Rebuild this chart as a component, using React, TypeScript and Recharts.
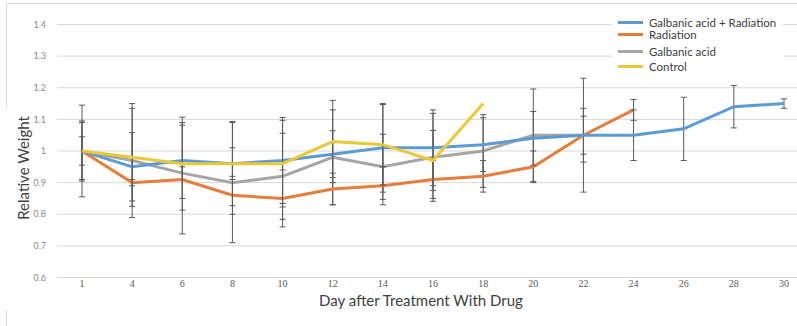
import React from 'react'
import { LineChart, Line, XAxis, YAxis, CartesianGrid, ErrorBar, Legend } from 'recharts'

const days = ['1', '4', '6', '8', '10', '12', '14', '16', '18', '20', '22', '24', '26', '28', '30']
const yTicks = [0.6, 0.7, 0.8, 0.9, 1.0, 1.1, 1.2, 1.3, 1.4]

// Galbanic acid + Radiation
const comboValues = [1, 0.95, 0.97, 0.96, 0.97, 0.99, 1.01, 1.01, 1.02, 1.04, 1.05, 1.05, 1.07, 1.14, 1.15]
const comboErrors = [0.045, 0.108, 0.12, 0.05, 0.136, 0.074, 0.14, 0.12, 0.085, 0.085, 0.085, 0.08, 0.1, 0.067, 0.015]

// Radiation
const radiationValues = [1, 0.9, 0.91, 0.86, 0.85, 0.88, 0.89, 0.91, 0.92, 0.95, 1.05, 1.13, null, null, null]
const radiationErrors = [0.145, 0.01, 0.172, 0.06, 0.09, 0.05, 0.06, 0.06, 0.05, 0.05, 0.18, 0.033, null, null, null]

// Galbanic acid
const galbanicValues = [1, 0.97, 0.93, 0.9, 0.92, 0.98, 0.95, 0.98, 1.0, 1.05, 1.05, null, null, null, null]
const galbanicErrors = [0.09, 0.18, 0.02, 0.19, 0.136, 0.15, 0.103, 0.139, 0.115, 0.146, 0.06, null, null, null, null]

// Control
const controlValues = [1, 0.98, 0.96, 0.96, 0.96, 1.03, 1.02, 0.97, 1.15, null, null, null, null, null, null]
const controlErrors = [0.095, 0.155, 0.147, 0.133, 0.137, 0.13, 0.127, 0.095, null, null, null, null, null, null, null]

const series = [
  { key: 'combo', name: 'Galbanic acid + Radiation', color: '#5B9BD5' },
  { key: 'radiation', name: 'Radiation', color: '#E67E3A' },
  { key: 'galbanic', name: 'Galbanic acid', color: '#A5A5A5' },
  { key: 'control', name: 'Control', color: '#EBC934' },
]

const data = days.map((day, i) => ({
  day,
  combo: comboValues[i],
  comboErr: comboErrors[i],
  radiation: radiationValues[i],
  radiationErr: radiationErrors[i],
  galbanic: galbanicValues[i],
  galbanicErr: galbanicErrors[i],
  control: controlValues[i],
  controlErr: controlErrors[i],
}))

const rowTops = [4, 16, 33, 48]

function LegendBox() {
  return (
    <div style={{ position: 'relative', width: 171, height: 64, background: '#fff' }}>
      {series.map((s, i) => (
        <div
          key={s.key}
          style={{ position: 'absolute', top: rowTops[i], left: 6, display: 'flex', alignItems: 'center', height: 13 }}
        >
          <span style={{ display: 'inline-block', width: 25, height: 3, background: s.color, marginRight: 6 }} />
          <span style={{ fontFamily: 'Lato, sans-serif', fontSize: 11.5, color: '#404040', whiteSpace: 'nowrap' }}>
            {s.name}
          </span>
        </div>
      ))}
    </div>
  )
}

const drawOrder = ['galbanic', 'radiation', 'combo', 'control']

export default function App() {
  return (
    <div style={{ position: 'absolute', left: 0, top: 0, width: 797, height: 326, overflow: 'hidden', background: '#fff' }}>
      <div
        style={{
          position: 'absolute', left: 6, top: 3, width: 800, height: 330,
          borderTop: '1px solid #d9d9d9', borderLeft: '1px solid #d9d9d9',
        }}
      />
      <LineChart width={809} height={326} data={data} margin={{ top: 24.5, right: 0, bottom: 0, left: 0 }}>
        <CartesianGrid vertical={false} stroke="#d9d9d9" />
        <XAxis
          dataKey="day"
          scale="point"
          padding={{ left: 25, right: 25 }}
          axisLine={false}
          tickLine={false}
          tickSize={0}
          tickMargin={2}
          height={48.5}
          interval={0}
          tick={{ fontFamily: '"Liberation Serif", serif', fontSize: 10, fill: '#595959' }}
        />
        <YAxis
          domain={[0.6, 1.4]}
          ticks={yTicks}
          width={57}
          axisLine={false}
          tickLine={false}
          tickSize={0}
          tickMargin={11}
          tickFormatter={(v) => String(Number(v.toFixed(1)))}
          tick={{ fontFamily: 'Lato, sans-serif', fontSize: 9, fill: '#8a8a8a' }}
        />
        <Legend
          layout="vertical"
          align="center"
          verticalAlign="middle"
          wrapperStyle={{ left: 612, top: 12, width: 171 }}
          content={() => <LegendBox />}
        />
        {drawOrder.map((k) => {
          const s = series.find((x) => x.key === k)!
          return (
            <Line
              key={s.key}
              dataKey={s.key}
              name={s.name}
              stroke={s.color}
              strokeWidth={3}
              dot={false}
              activeDot={false}
              isAnimationActive={false}
            >
              <ErrorBar dataKey={s.key + 'Err'} direction="y" width={3} strokeWidth={1} stroke="#595959" />
            </Line>
          )
        })}
      </LineChart>
      <div style={{ position: 'absolute', left: 0, top: 108, width: 32, height: 202, background: '#fff' }} />
      <div
        style={{
          position: 'absolute', left: 23, top: 168, transform: 'translate(-50%, -50%) rotate(-90deg)',
          whiteSpace: 'nowrap', fontFamily: 'Lato, sans-serif', fontSize: 15, color: '#404040',
        }}
      >
        Relative Weight
      </div>
      <div
        style={{
          position: 'absolute', left: 421, top: 300, transform: 'translate(-50%, -50%)',
          whiteSpace: 'nowrap', fontFamily: 'Lato, sans-serif', fontSize: 15, color: '#404040',
        }}
      >
        Day after Treatment With Drug
      </div>
    </div>
  )
}
